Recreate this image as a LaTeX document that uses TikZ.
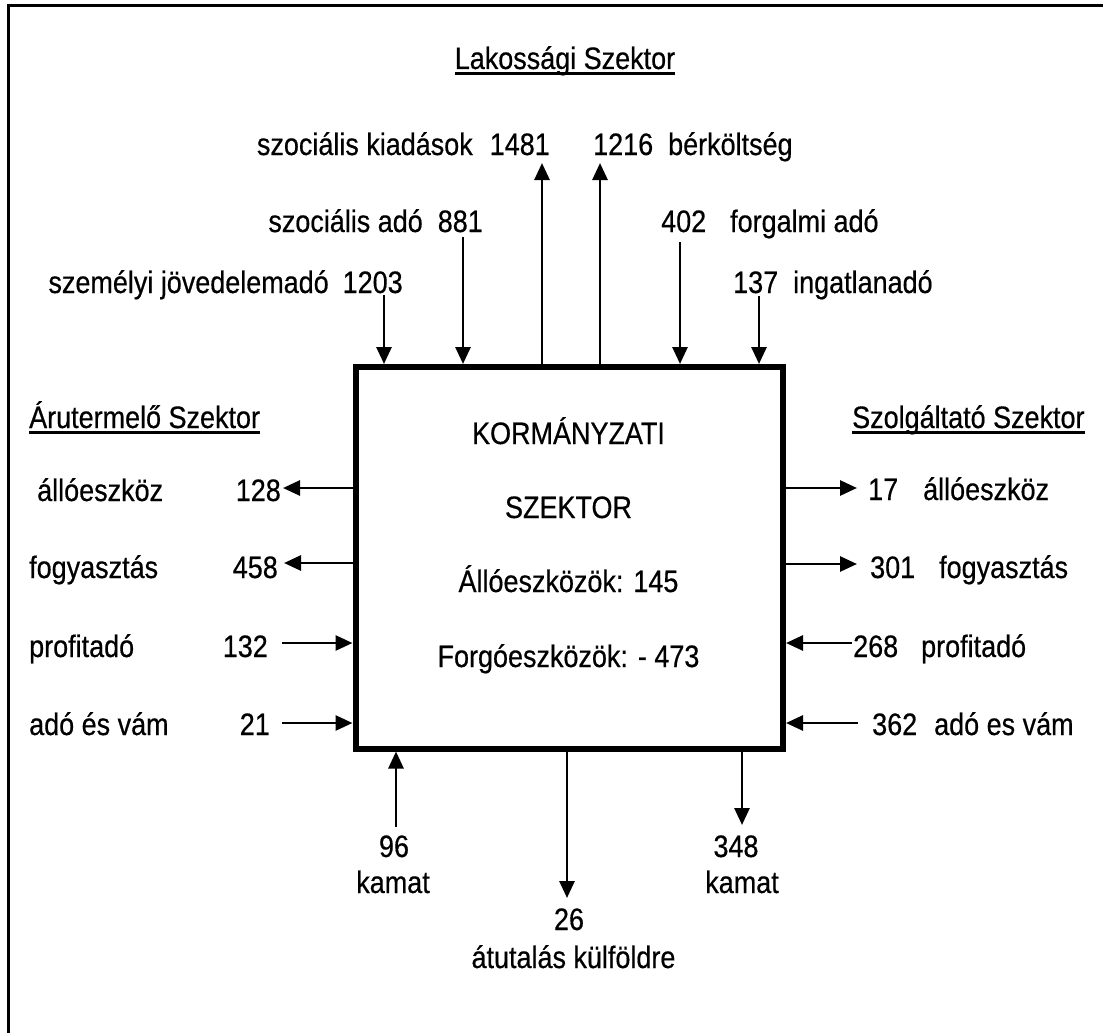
\documentclass[tikz,border=0pt]{standalone}
\usepackage{fontspec}
\setmainfont{Liberation Sans}[FakeStretch=0.87,FakeBold=0.5]
\usetikzlibrary{arrows.meta}
\newcommand{\szektor}[1]{\setbox0\hbox{#1}\rlap{\rule[-6pt]{\wd0}{3pt}}\box0}

\begin{document}
\begin{tikzpicture}[x=1pt,y=-1pt]
	\tikzstyle{every node}=[font=\fontsize{31}{37}\selectfont, inner sep=0pt]
	\tikzstyle{flow}=[line width=2.8pt, -{Triangle[length=17pt,width=15pt]}]
	\useasboundingbox (0,0) rectangle (1103,1033);
	\clip (0,0) rectangle (1103,1033);
	\draw[line width=2.6pt] (8.7,5.3) rectangle (1120,1050);

	% government sector
	\node[draw, line width=6pt, minimum width=427.5pt, minimum height=381.5pt] (gov) at (569.25,557.75) {};
	\node[anchor=base] (kor) at (568.5,444) {KORMÁNYZATI};
	\node[anchor=base] (szek) at (568.5,518) {SZEKTOR};
	\node[anchor=base] (alloe) at (568.5,592) {Állóeszközök: 145};
	\node[anchor=base] (forgoe) at (568.5,667) {Forgóeszközök: - 473};

	% households
	\node[anchor=base] (lak) at (565,69) {\szektor{Lakossági Szektor}};
	\node[anchor=base east] (kiad) at (550,155) {szociális kiadások\hspace{17pt}1481};
	\node[anchor=base west] (berk) at (593,155) {1216\hspace{15pt}bérköltség};
	\node[anchor=base east] (szado) at (483,232) {szociális adó\hspace{15pt}881};
	\node[anchor=base west] (forg) at (661,232) {402\hspace{24pt}forgalmi adó};
	\node[anchor=base east] (szja) at (403,293) {személyi jövedelemadó\hspace{14pt}1203};
	\node[anchor=base west] (ingat) at (733,293) {137\hspace{15pt}ingatlanadó};

	\coordinate (ki) at (542,163);
	\coordinate (be) at (600,163);
	\coordinate (so) at (463,237);
	\coordinate (fo) at (680,242);
	\coordinate (sz) at (384,295);
	\coordinate (ing) at (759,296);
	\draw[flow] (ki |- gov.north) -- (ki);
	\draw[flow] (be |- gov.north) -- (be);
	\draw[flow] (so) -- (so |- gov.north);
	\draw[flow] (fo) -- (fo |- gov.north);
	\draw[flow] (sz) -- (sz |- gov.north);
	\draw[flow] (ing) -- (ing |- gov.north);

	% goods sector
	\node[anchor=base west] (aru) at (29,428) {\szektor{Árutermelő Szektor}};
	\node[anchor=base west] (a1) at (37,501) {állóeszköz};
	\node[anchor=base east] (a128) at (281,501) {128};
	\node[anchor=base west] (a2) at (29,578) {fogyasztás};
	\node[anchor=base east] (a458) at (278,578) {458};
	\node[anchor=base west] (a3) at (29,657) {profitadó};
	\node[anchor=base east] (a132) at (268,657) {132};
	\node[anchor=base west] (a4) at (29,735) {adó és vám};
	\node[anchor=base east] (a21) at (270,735) {21};

	\coordinate (l1) at (283,488);
	\coordinate (l2) at (284,563);
	\coordinate (l3) at (282,643);
	\coordinate (l4) at (282,723);
	\draw[flow] (l1 -| gov.west) -- (l1);
	\draw[flow] (l2 -| gov.west) -- (l2);
	\draw[flow] (l3) -- (l3 -| gov.west);
	\draw[flow] (l4) -- (l4 -| gov.west);

	% services sector
	\node[anchor=base west] (szolg) at (852,428) {\szektor{Szolgáltató Szektor}};
	\node[anchor=base west] (s17) at (868,500) {17\hspace{25pt}állóeszköz};
	\node[anchor=base west] (s301) at (870,578) {301\hspace{24pt}fogyasztás};
	\node[anchor=base west] (s268) at (853,657) {268\hspace{23pt}profitadó};
	\node[anchor=base west] (s362) at (872,735) {362\hspace{17pt}adó es vám};

	\coordinate (r1) at (857,488);
	\coordinate (r2) at (857,564);
	\coordinate (r3) at (852,643);
	\coordinate (r4) at (858,723);
	\draw[flow] (r1 -| gov.east) -- (r1);
	\draw[flow] (r2 -| gov.east) -- (r2);
	\draw[flow] (r3) -- (r3 -| gov.east);
	\draw[flow] (r4) -- (r4 -| gov.east);

	% interest and transfers
	\node[anchor=base] (b96) at (394,857) {96};
	\node[anchor=base] (k96) at (393,893) {kamat};
	\node[anchor=base] (b26) at (569,930) {26};
	\node[anchor=base] (kulf) at (573.5,968) {átutalás külföldre};
	\node[anchor=base] (b348) at (736,857) {348};
	\node[anchor=base] (k348) at (742,893) {kamat};

	\coordinate (d1) at (396,827);
	\coordinate (d2) at (567,898);
	\coordinate (d3) at (742,825);
	\draw[flow] (d1) -- (d1 |- gov.south);
	\draw[flow] (d2 |- gov.south) -- (d2);
	\draw[flow] (d3 |- gov.south) -- (d3);
\end{tikzpicture}
\end{document}
